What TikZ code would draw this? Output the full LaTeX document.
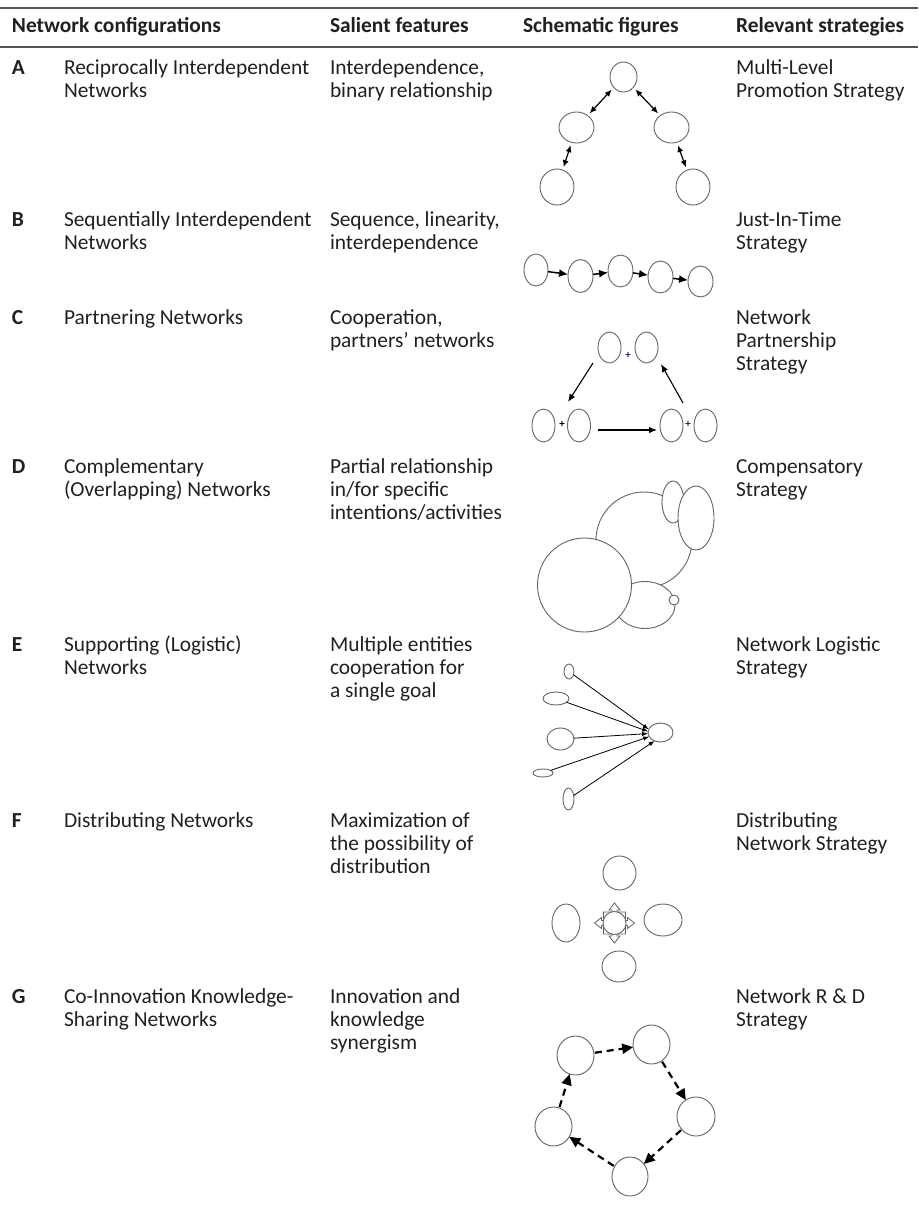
\documentclass[tikz,border=0pt]{standalone}
\usepackage{fontspec}
\setmainfont{Carlito}
\usetikzlibrary{arrows.meta,shapes.geometric}
\definecolor{txt}{RGB}{35,31,32}
\definecolor{ln}{RGB}{100,100,100}
\definecolor{rulec}{RGB}{85,85,85}
\definecolor{plusblue}{RGB}{30,45,110}
\newcommand\tline[4]{\node[tx] (#1) at (#2,#3) {#4};}
\newcommand\hdline[4]{\node[hd] (#1) at (#2,#3) {#4};}
\begin{document}
\begin{tikzpicture}[x=1pt,y=-1pt,
  tx/.style={anchor=base west,inner sep=0,outer sep=0,text=txt,font=\fontsize{21.4}{23}\selectfont},
  hd/.style={tx,font=\fontsize{21.4}{23}\selectfont\bfseries},
  el/.style={ellipse,draw=ln,line width=0.9,inner sep=0,outer sep=0,fill=white},
  es/.style 2 args={el,minimum width=#1,minimum height=#2},
  dbl/.style={{Latex[length=7,width=6]}-{Latex[length=7,width=6]},line width=1.2,black,shorten <=3,shorten >=3},
  seq/.style={-{Latex[length=9,width=8]},line width=1.5,black},
  carr/.style={-{Latex[length=8,width=6.5]},line width=1.1,black},
  earr/.style={-{Latex[length=6,width=4.5]},line width=0.8,black},
  garr/.style={-{Triangle[length=11,width=10]},line width=2.2,black,dash pattern=on 7pt off 5pt,shorten <=1},
  plus/.style={inner sep=0,font=\fontsize{11}{11}\selectfont\bfseries}
]
\useasboundingbox (0,0) rectangle (918,1217);
% rules
\draw[rulec,line width=1.6] (0,8) -- (918,8);
\draw[rulec,line width=1.2] (0,47) -- (918,47);
% header
\hdline{h1}{12}{33}{Network configurations}
\hdline{h2}{330}{33}{Salient features}
\hdline{h3}{523}{33}{Schematic figures}
\hdline{h4}{736}{33}{Relevant strategies}
% row A
\hdline{la}{12}{75}{A}
\tline{a21}{64}{75}{Reciprocally Interdependent}
\tline{a22}{64}{98}{Networks}
\tline{a31}{330}{75}{Interdependence,}
\tline{a32}{330}{98}{binary relationship}
\tline{a51}{736}{75}{Multi-Level}
\tline{a52}{736}{98}{Promotion Strategy}
% row B
\hdline{lb}{12}{226}{B}
\tline{b21}{64}{226}{Sequentially Interdependent}
\tline{b22}{64}{249}{Networks}
\tline{b31}{330}{226}{Sequence, linearity,}
\tline{b32}{330}{249}{interdependence}
\tline{b51}{736}{226}{Just-In-Time}
\tline{b52}{736}{249}{Strategy}
% row C
\hdline{lc}{12}{324}{C}
\tline{c21}{64}{324}{Partnering Networks}
\tline{c31}{330}{324}{Cooperation,}
\tline{c32}{330}{347}{partners’ networks}
\tline{c51}{736}{324}{Network}
\tline{c52}{736}{347}{Partnership}
\tline{c53}{736}{370}{Strategy}
% row D
\hdline{ld}{12}{473}{D}
\tline{d21}{64}{473}{Complementary}
\tline{d22}{64}{496}{(Overlapping) Networks}
\tline{d31}{330}{473}{Partial relationship}
\tline{d32}{330}{496}{in/for specific}
\tline{d33}{330}{519}{intentions/activities}
\tline{d51}{736}{473}{Compensatory}
\tline{d52}{736}{496}{Strategy}
% row E
\hdline{le}{12}{651}{E}
\tline{e21}{64}{651}{Supporting (Logistic)}
\tline{e22}{64}{674}{Networks}
\tline{e31}{330}{651}{Multiple entities}
\tline{e32}{330}{674}{cooperation for}
\tline{e33}{330}{697}{a single goal}
\tline{e51}{736}{651}{Network Logistic}
\tline{e52}{736}{674}{Strategy}
% row F
\hdline{lf}{12}{827}{F}
\tline{f21}{64}{827}{Distributing Networks}
\tline{f31}{330}{827}{Maximization of}
\tline{f32}{330}{850}{the possibility of}
\tline{f33}{330}{873}{distribution}
\tline{f51}{736}{827}{Distributing}
\tline{f52}{736}{850}{Network Strategy}
% row G
\hdline{lg}{12}{1003}{G}
\tline{g21}{64}{1003}{Co-Innovation Knowledge-}
\tline{g22}{64}{1026}{Sharing Networks}
\tline{g31}{330}{1003}{Innovation and}
\tline{g32}{330}{1026}{knowledge}
\tline{g33}{330}{1049}{synergism}
\tline{g51}{736}{1003}{Network R \& D}
\tline{g52}{736}{1026}{Strategy}

% ---- schematic A
\node[es={27}{30}] (A1) at (623.5,77) {};
\node[es={35}{31}] (A2) at (576.5,127.5) {};
\node[es={35}{31}] (A3) at (671.5,127.5) {};
\node[es={34}{36}] (A4) at (557,187) {};
\node[es={34}{36}] (A5) at (693,187) {};
\draw[dbl] (A1) -- (A2);
\draw[dbl] (A1) -- (A3);
\draw[dbl] (A2) -- (A4);
\draw[dbl] (A3) -- (A5);

% ---- schematic B
\node[es={24}{32}] (B1) at (536,270) {};
\node[es={25}{33}] (B2) at (580.5,276) {};
\node[es={25}{32}] (B3) at (620.5,271) {};
\node[es={25}{32}] (B4) at (660.5,277) {};
\node[es={25}{31}] (B5) at (700.5,281.5) {};
\draw[seq] (B1) -- (B2);
\draw[seq] (B2) -- (B3);
\draw[seq] (B3) -- (B4);
\draw[seq] (B4) -- (B5);

% ---- schematic C
\node[es={23}{31}] (C1) at (609.5,347.5) {};
\node[es={23}{31}] (C2) at (646.5,347.5) {};
\node[plus,text=plusblue] (Cp1) at (628,355) {+};
\node[es={23}{33}] (C3) at (543.5,425.5) {};
\node[es={23}{33}] (C4) at (579,425.5) {};
\node[plus] (Cp2) at (562,424) {+};
\node[es={23}{33}] (C5) at (671.5,425.5) {};
\node[es={23}{33}] (C6) at (705.5,425.5) {};
\node[plus,text=plusblue] (Cp3) at (688,424) {+};
\coordinate (cs1) at (593,363);
\coordinate (ce1) at (568,402);
\coordinate (cs2) at (683,403);
\coordinate (ce2) at (661,364);
\coordinate (cs3) at (598,430);
\coordinate (ce3) at (657,430);
\draw[carr] (cs1) -- (ce1);
\draw[carr] (cs2) -- (ce2);
\draw[carr] (cs3) -- (ce3);

% ---- schematic D
\node[circle,draw=ln,line width=0.9,fill=white,inner sep=0,minimum size=96] (D1) at (644,540) {};
\node[es={22}{42}] (D2) at (673,502) {};
\node[es={36}{64}] (D3) at (696,518) {};
\node[es={60}{47}] (D4) at (645,605) {};
\node[circle,draw=ln,line width=0.9,fill=white,inner sep=0,minimum size=94] (D5) at (584.5,585) {};
\node[circle,draw=ln,line width=0.9,fill=white,inner sep=0,minimum size=10] (D6) at (674,600) {};

% ---- schematic E
\node[es={25}{19}] (E0) at (660.5,732.5) {};
\node[es={10}{15}] (E1) at (569,671.5) {};
\node[es={26}{13}] (E2) at (556,698.5) {};
\node[es={27}{22}] (E3) at (560.5,739) {};
\node[es={20}{8}] (E4) at (543,773) {};
\node[es={11}{22}] (E5) at (568.5,799) {};
\draw[earr] (E1) -- (E0.165);
\draw[earr] (E2) -- (E0.175);
\draw[earr] (E3) -- (E0.185);
\draw[earr] (E4) -- (E0.200);
\draw[earr] (E5) -- (E0.235);

% ---- schematic F
\node[es={33}{34}] (FT) at (619.5,873) {};
\node[es={28}{38}] (FL) at (566,923) {};
\node[es={38}{32}] (FR) at (663,920) {};
\node[es={34}{31}] (FB) at (619,966.5) {};
\draw[ln,line width=0.8,fill=white,shift={(614.5,923)}]
  (-2.5,-11) -- (-2.5,-13) -- (-5.5,-13) -- (0,-20) -- (5.5,-13) -- (2.5,-13) -- (2.5,-11) -- (11,-11)
  -- (11,-2.5) -- (13,-2.5) -- (13,-5.5) -- (20,0) -- (13,5.5) -- (13,2.5) -- (11,2.5) -- (11,11)
  -- (2.5,11) -- (2.5,13) -- (5.5,13) -- (0,20) -- (-5.5,13) -- (-2.5,13) -- (-2.5,11) -- (-11,11)
  -- (-11,2.5) -- (-13,2.5) -- (-13,5.5) -- (-20,0) -- (-13,-5.5) -- (-13,-2.5) -- (-11,-2.5) -- (-11,-11) -- cycle;
\node[circle,draw=ln,line width=0.9,fill=white,inner sep=0,minimum size=23] (F0) at (614.5,923) {};

% ---- schematic G
\node[es={37}{39}] (G1) at (575.5,1055.5) {};
\node[es={37}{39}] (G2) at (651.5,1044.5) {};
\node[es={38}{39}] (G3) at (696,1116.5) {};
\node[es={36}{39}] (G4) at (630,1176.5) {};
\node[es={37}{39}] (G5) at (553.5,1126.5) {};
\draw[garr] (G1) -- (G2);
\draw[garr] (G2) -- (G3);
\draw[garr] (G3) -- (G4);
\draw[garr] (G4) -- (G5);
\draw[garr] (G5) -- (G1);
\end{tikzpicture}
\end{document}
